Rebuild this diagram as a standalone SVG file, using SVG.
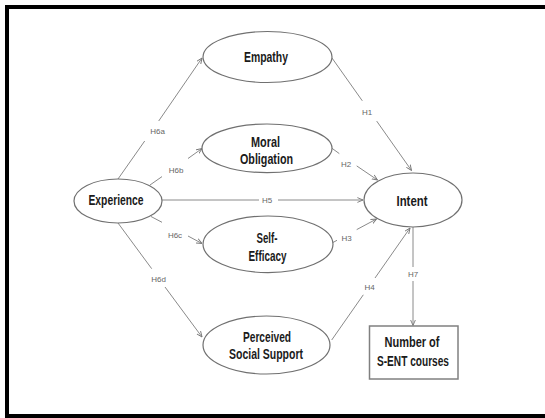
<svg xmlns="http://www.w3.org/2000/svg" width="545" height="418" viewBox="0 0 545 418">
<defs>
<style>
.frame{fill:none;stroke:#000;stroke-width:4}
.node{fill:#fff;stroke:#707070;stroke-width:1.2}
.box{fill:#fff;stroke:#808080;stroke-width:1.5}
.t{font-family:"Liberation Sans",Arial,sans-serif;font-weight:bold;font-size:14px;fill:#1a1a1a;text-anchor:middle}
.edge{fill:none;stroke:#8a8a8a;stroke-width:1;marker-end:url(#arr)}
.lbl{font-family:"Liberation Sans",Arial,sans-serif;font-size:8px;fill:#666;text-anchor:middle}
</style>
<marker id="arr" viewBox="0 0 8 8" refX="7.5" refY="4" markerWidth="6" markerHeight="6" markerUnits="userSpaceOnUse" orient="auto">
<path d="M0,0.8 L7.5,4 L0,7.2" fill="none" stroke="#777" stroke-width="1.2"/>
</marker>
</defs>
<rect width="545" height="418" fill="#fff"/>
<path class="frame" d="M547,7 H7 V416 H547"/>

<g id="connectors">
<path class="edge" d="M118,179 L144.7,141 M158.7,121 L202,58"/>
<path class="edge" d="M150,185 L162,176.6 M188,158.5 L202,148.5"/>
<path class="edge" d="M162,200 L259,200 M278,200 L363,200"/>
<path class="edge" d="M151,216.5 L162,222.3 M188,236 L202,243.5"/>
<path class="edge" d="M118,223 L151.7,268.7 M165,287 L202,337"/>
<path class="edge" d="M332,58 L362.3,100.8 M376.7,121.1 L411.5,170.5"/>
<path class="edge" d="M332,148.3 L339.3,153.6 M356.7,165.9 L377.5,180"/>
<path class="edge" d="M332,243 L337,240.3 M356.7,229.6 L376.5,219"/>
<path class="edge" d="M331.7,340 L363.3,294.8 M375,278 L410,228"/>
<path class="edge" d="M413,227 L413,267 M413,281 L413,325.5"/>
<text class="lbl" x="157.5" y="134">H6a</text>
<text class="lbl" x="176" y="173">H6b</text>
<text class="lbl" x="267" y="203">H5</text>
<text class="lbl" x="175" y="238">H6c</text>
<text class="lbl" x="158.5" y="282">H6d</text>
<text class="lbl" x="367" y="115">H1</text>
<text class="lbl" x="346" y="167">H2</text>
<text class="lbl" x="346.5" y="241">H3</text>
<text class="lbl" x="369.5" y="290">H4</text>
<text class="lbl" x="413" y="277">H7</text>
</g>

<g id="empathy">
<ellipse class="node" cx="267.5" cy="57" rx="64.5" ry="25.5"/>
<text class="t" x="266" y="62" textLength="44" lengthAdjust="spacingAndGlyphs">Empathy</text>
</g>
<g id="moral-obligation">
<ellipse class="node" cx="267" cy="148.3" rx="65" ry="24.3"/>
<text class="t" x="265.5" y="146.5" textLength="29" lengthAdjust="spacingAndGlyphs">Moral</text>
<text class="t" x="266.5" y="163.5" textLength="53" lengthAdjust="spacingAndGlyphs">Obligation</text>
</g>
<g id="experience">
<ellipse class="node" cx="118" cy="201" rx="44" ry="22"/>
<text class="t" x="116" y="205" textLength="55" lengthAdjust="spacingAndGlyphs">Experience</text>
</g>
<g id="intent">
<ellipse class="node" cx="413" cy="200" rx="49" ry="27"/>
<text class="t" x="412" y="205.5" textLength="31" lengthAdjust="spacingAndGlyphs">Intent</text>
</g>
<g id="self-efficacy">
<ellipse class="node" cx="268" cy="244.3" rx="65" ry="28.3"/>
<text class="t" x="267" y="242.5" textLength="21" lengthAdjust="spacingAndGlyphs">Self-</text>
<text class="t" x="267.5" y="260.5" textLength="38" lengthAdjust="spacingAndGlyphs">Efficacy</text>
</g>
<g id="perceived-social-support">
<ellipse class="node" cx="266.5" cy="345" rx="63.5" ry="29"/>
<text class="t" x="267" y="342" textLength="48" lengthAdjust="spacingAndGlyphs">Perceived</text>
<text class="t" x="266" y="359" textLength="74" lengthAdjust="spacingAndGlyphs">Social Support</text>
</g>
<g id="number-of-courses">
<rect class="box" x="369.5" y="326" width="88.5" height="53"/>
<text class="t" x="412" y="346.5" textLength="55" lengthAdjust="spacingAndGlyphs">Number of</text>
<text class="t" x="413" y="366" textLength="72" lengthAdjust="spacingAndGlyphs">S-ENT courses</text>
</g>
</svg>
